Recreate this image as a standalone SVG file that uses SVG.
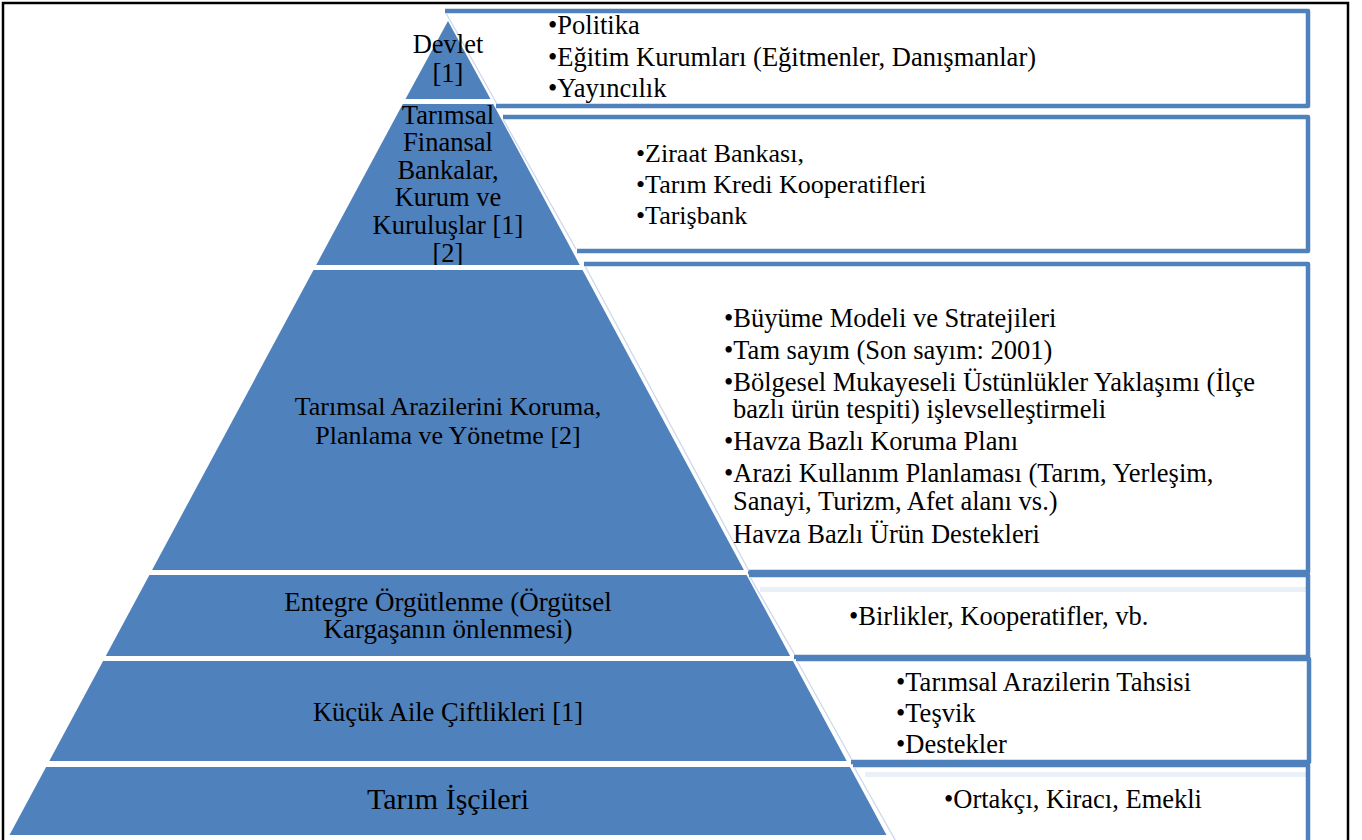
<svg xmlns="http://www.w3.org/2000/svg" width="1362" height="840" viewBox="0 0 1362 840">
<defs>
  <clipPath id="clipT2"><polygon points="402.8,104 493.2,104 579.8,265 316.2,265"/></clipPath>
</defs>
<rect x="0" y="0" width="1362" height="840" fill="#FFFFFF"/>
<rect x="3" y="3" width="1345" height="860" fill="none" stroke="#000" stroke-width="2.5"/>
<g id="connectors"></g>
<g id="box1">
  <polygon fill="#FFFFFF" points="443,11 1308,11 1308,106 496,106"/>
  <path fill="none" stroke="#4F81BD" stroke-width="4.5" stroke-linejoin="round" d="M445,11 H1308 V106 H496"/>
  <line stroke="#C9D7EA" stroke-width="1.2" x1="446" y1="13" x2="497" y2="104"/>
  <text font-family="Liberation Serif" font-size="26.5" x="548" y="34">•Politika</text>
  <text font-family="Liberation Serif" font-size="26.5" x="548" y="66">•Eğitim Kurumları (Eğitmenler, Danışmanlar)</text>
  <text font-family="Liberation Serif" font-size="26.5" x="548" y="97">•Yayıncılık</text>
</g>
<g id="box2">
  <polygon fill="#FFFFFF" points="503,117 1308,117 1308,251 576,251"/>
  <path fill="none" stroke="#4F81BD" stroke-width="4.5" stroke-linejoin="round" d="M503,117 H1308 V251 H577"/>
  <line stroke="#C9D7EA" stroke-width="1.2" x1="503" y1="119" x2="576" y2="249"/>
  <g>
  <text font-family="Times New Roman" font-size="26" x="636" y="162">•Ziraat Bankası,</text>
  <text font-family="Times New Roman" font-size="26" x="636" y="193">•Tarım Kredi Kooperatifleri</text>
  <text font-family="Times New Roman" font-size="26" x="636" y="224">•Tarişbank</text>
  </g>
</g>
<g id="box3">
  <polygon fill="#FFFFFF" points="583,264 1308,264 1308,572 748,572"/>
  <path fill="none" stroke="#4F81BD" stroke-width="4.5" stroke-linejoin="round" d="M584,264 H1308 V572 H748"/>
  <line stroke="#C9D7EA" stroke-width="1.2" x1="585" y1="266" x2="749" y2="571"/>
  <text font-family="serif" font-size="26.5" x="724" y="327">•Büyüme Modeli ve Stratejileri</text>
  <text font-family="serif" font-size="26.5" x="724" y="359">•Tam sayım (Son sayım: 2001)</text>
  <text font-family="serif" font-size="26.5" x="724" y="391">•Bölgesel Mukayeseli Üstünlükler Yaklaşımı (İlçe</text>
  <text font-family="serif" font-size="26.5" x="733" y="418">bazlı ürün tespiti) işlevselleştirmeli</text>
  <text font-family="serif" font-size="26.5" x="724" y="450">•Havza Bazlı Koruma Planı</text>
  <text font-family="serif" font-size="26.5" x="724" y="482">•Arazi Kullanım Planlaması (Tarım, Yerleşim,</text>
  <text font-family="serif" font-size="26.5" x="733" y="510">Sanayi, Turizm, Afet alanı vs.)</text>
  <text font-family="serif" font-size="26.5" x="733" y="543">Havza Bazlı Ürün Destekleri</text>
</g>
<g id="box4">
  <polygon fill="#FFFFFF" points="749,575 1308,575 1308,657 794,657"/>
  <rect fill="#EAF0F7" x="760" y="587" width="546" height="5"/>
  <path fill="none" stroke="#4F81BD" stroke-width="4.5" stroke-linejoin="round" d="M749,575 H1308 V657 H794"/>
  <line stroke="#C9D7EA" stroke-width="1.2" x1="750" y1="577" x2="795" y2="655"/>
</g>
<text font-family="Liberation Serif" font-size="26.5" x="849" y="625">•Birlikler, Kooperatifler, vb.</text>
<g id="box5">
  <polygon fill="#FFFFFF" points="795,659 1309,659 1309,762 851,762"/>
  <path fill="none" stroke="#4F81BD" stroke-width="4.5" stroke-linejoin="round" d="M796,659 H1309 V762 H851"/>
  <line stroke="#C9D7EA" stroke-width="1.2" x1="797" y1="661" x2="852" y2="760"/>
  <text font-family="Tinos" font-size="26.5" x="896" y="691">•Tarımsal Arazilerin Tahsisi</text>
  <text font-family="Tinos" font-size="26.5" x="896" y="722">•Teşvik</text>
  <text font-family="Tinos" font-size="26.5" x="896" y="753">•Destekler</text>
</g>
<svg id="box6" overflow="visible">
  <polygon fill="#FFFFFF" points="853,765 1308,765 1308,860 900,860"/>
  <rect fill="#EAF0F7" x="865" y="772" width="441" height="5"/>
  <path fill="none" stroke="#4F81BD" stroke-width="4.5" stroke-linejoin="round" d="M853,765 H1308 V860"/>
  <line stroke="#C9D7EA" stroke-width="1.2" x1="854" y1="767" x2="898" y2="845"/>
  <text font-family="Liberation Serif" font-size="26.5" x="944" y="808">•Ortakçı, Kiracı, Emekli</text>
</svg>
<g id="tier1">
  <polygon fill="#4F81BD" points="448,21 490.5,99 405.5,99"/>
  <text font-family="Liberation Serif" font-size="26.5" text-anchor="middle" x="448" y="53">Devlet</text>
  <text font-family="Liberation Serif" font-size="26.5" text-anchor="middle" x="448" y="82">[1]</text>
</g>
<g id="tier2">
  <polygon fill="#4F81BD" points="402.8,104 493.2,104 579.8,265 316.2,265"/>
  <g clip-path="url(#clipT2)">
    <text font-family="Liberation Serif" font-size="26.5" text-anchor="middle" x="448" y="124">Tarımsal</text>
    <text font-family="Liberation Serif" font-size="26.5" text-anchor="middle" x="448" y="151">Finansal</text>
    <text font-family="Liberation Serif" font-size="26.5" text-anchor="middle" x="448" y="179">Bankalar,</text>
    <text font-family="Liberation Serif" font-size="26.5" text-anchor="middle" x="448" y="206">Kurum ve</text>
    <text font-family="Liberation Serif" font-size="26.5" text-anchor="middle" x="448" y="234">Kuruluşlar [1]</text>
    <text font-family="Liberation Serif" font-size="26.5" text-anchor="middle" x="448" y="262">[2]</text>
  </g>
</g>
<g id="tier3">
  <polygon fill="#4F81BD" points="313.5,270 582.5,270 743.9,570 152.1,570"/>
  <text font-family="Liberation Serif" font-size="26" text-anchor="middle" x="448" y="415">Tarımsal Arazilerini Koruma,</text>
  <text font-family="Liberation Serif" font-size="26" text-anchor="middle" x="448" y="444">Planlama ve Yönetme [2]</text>
</g>
<g id="tier4">
  <polygon fill="#4F81BD" points="149.4,575 746.6,575 790.2,656 105.8,656"/>
  <text font-family="Liberation Serif" font-size="27" text-anchor="middle" x="448" y="611">Entegre Örgütlenme (Örgütsel</text>
  <text font-family="Liberation Serif" font-size="27" text-anchor="middle" x="448" y="638">Kargaşanın önlenmesi)</text>
</g>
<g id="tier5">
  <polygon fill="#4F81BD" points="103.1,661 792.9,661 846.7,761 49.3,761"/>
</g>
<text font-family="Liberation Serif" font-size="26.5" text-anchor="middle" x="448" y="721">Küçük Aile Çiftlikleri [1]</text>
<g id="tier6">
  <polygon fill="#4F81BD" points="46.1,767 849.9,767 886.5,835 9.5,835"/>
  <text font-family="Liberation Serif" font-size="30" text-anchor="middle" x="448" y="809">Tarım İşçileri</text>
</g>
</svg>
